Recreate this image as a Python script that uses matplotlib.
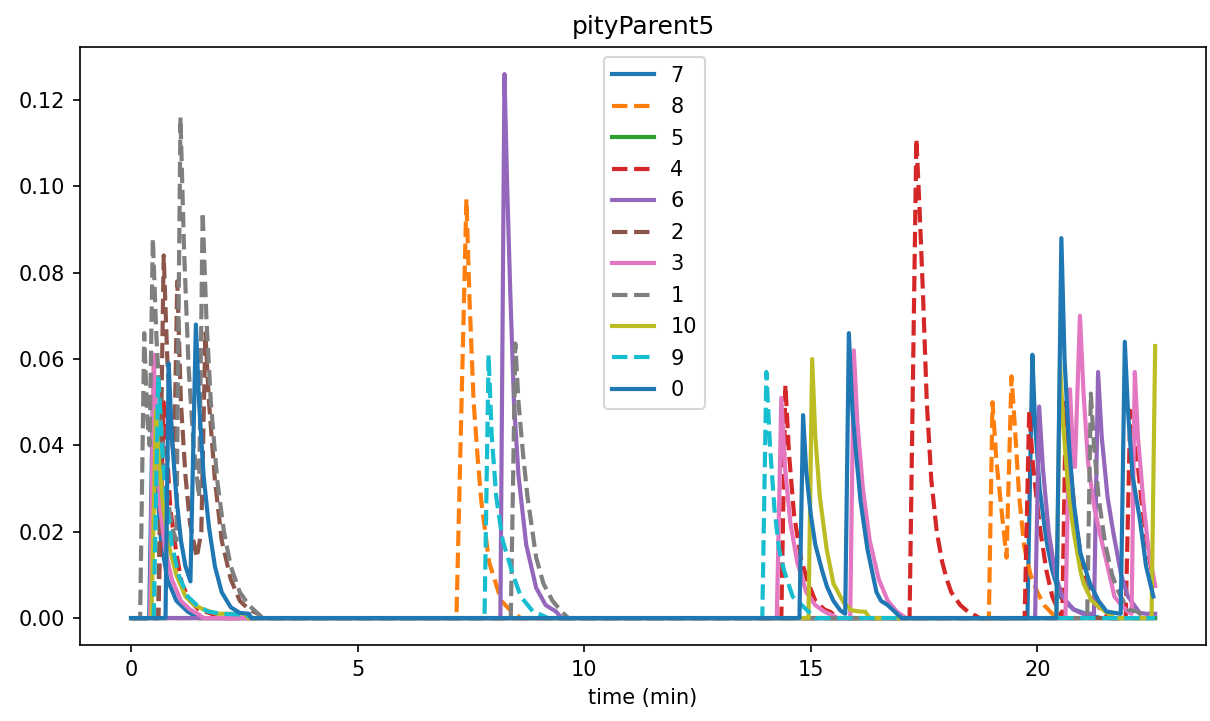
import matplotlib
matplotlib.use("Agg")
import matplotlib.pyplot as plt

# legend labels, in the order the series are drawn
labels = ["7", "8", "5", "4", "6", "2", "3", "1", "10", "9", "0"]

# each series: time (min) and value
t7 = [0, 0.4, 0.48, 0.56, 0.66, 0.8, 1.0, 1.25, 1.5,
      19.78, 19.89, 19.95, 20.05, 20.2, 20.33, 20.5, 20.8, 21.2, 21.4, 22.6]
v7 = [0, 0, 0.05, 0.032, 0.018, 0.009, 0.004, 0.0015, 0,
      0, 0.061, 0.045, 0.03, 0.018, 0.011, 0.005, 0.002, 0.0005, 0, 0]

t8 = [0, 7.18, 7.4, 7.47, 7.56, 7.65, 7.73, 7.9, 8.17, 8.4, 8.6,
      18.93, 19.01, 19.1, 19.23, 19.32, 19.43, 19.5, 19.6, 19.71, 19.85, 20.0, 20.15, 20.33, 20.5, 22.6]
v8 = [0, 0, 0.097, 0.0735, 0.05, 0.037, 0.027, 0.013, 0.004, 0.0015, 0,
      0, 0.05, 0.036, 0.023, 0.014, 0.056, 0.045, 0.028, 0.0165, 0.01, 0.006, 0.003, 0.001, 0, 0]

t5 = [0, 22.6]
v5 = [0, 0]

t4 = [0, 0.6, 0.72, 0.8, 0.87, 1.0, 1.12, 1.3, 1.49, 1.78, 1.9,
      14.35, 14.44, 14.52, 14.63, 14.78, 14.92, 15.1, 15.3, 15.44, 15.6,
      17.18, 17.33, 17.4, 17.48, 17.56, 17.66, 17.78, 17.9, 18.0, 18.1, 18.3, 18.5, 18.65, 18.72,
      19.72, 19.82, 19.9, 20.0, 20.07, 20.2, 20.33, 20.45, 20.55, 20.63, 20.72, 20.85, 21.0, 21.2, 21.4, 21.6,
      21.95, 22.05, 22.15, 22.3, 22.45, 22.6]
v4 = [0, 0, 0.05, 0.037, 0.025, 0.015, 0.008, 0.004, 0.002, 0.001, 0,
      0, 0.054, 0.038, 0.024, 0.014, 0.0088, 0.004, 0.002, 0.0014, 0,
      0, 0.111, 0.095, 0.074, 0.05, 0.032, 0.02, 0.013, 0.009, 0.006, 0.003, 0.0012, 0.0005, 0,
      0, 0.048, 0.036, 0.026, 0.02, 0.011, 0.005, 0.002, 0, 0.05, 0.036, 0.022, 0.012, 0.005, 0.002, 0,
      0, 0.048, 0.042, 0.027, 0.015, 0.007]

t6 = [0, 8.15, 8.24, 8.3, 8.37, 8.45, 8.55, 8.72, 8.94, 9.15, 9.38, 9.5,
      19.95, 20.04, 20.12, 20.25, 20.4, 20.55, 20.8, 21.0, 21.25, 21.34, 21.42, 21.55, 21.68, 21.85,
      22.0, 22.26, 22.4, 22.6]
v6 = [0, 0, 0.126, 0.1, 0.075, 0.05, 0.033, 0.017, 0.007, 0.003, 0.0015, 0,
      0, 0.049, 0.035, 0.02, 0.01, 0.005, 0.002, 0.001, 0.001, 0.057, 0.042, 0.028, 0.0196, 0.01,
      0.005, 0.0012, 0.001, 0.001]

t2 = [0, 0.6, 0.72, 0.8, 0.9, 0.95, 1.02, 1.1, 1.2, 1.3, 1.45, 1.55, 1.64, 1.72, 1.85,
      2.0, 2.2, 2.4, 2.6, 2.8, 2.9, 22.6]
v2 = [0, 0, 0.084, 0.06, 0.042, 0.036, 0.078, 0.05, 0.033, 0.022, 0.014, 0.02, 0.066, 0.05, 0.032,
      0.018, 0.009, 0.004, 0.002, 0.001, 0, 0]

t3 = [0, 0.42, 0.5, 0.56, 0.65, 0.75, 0.9, 1.1, 1.3, 1.5, 1.6,
      14.25, 14.35, 14.43, 14.55, 14.7, 14.9, 15.1, 15.3, 15.5, 15.6,
      15.87, 15.95, 16.03, 16.15, 16.3, 16.5, 16.7, 16.9, 17.1,
      20.62, 20.72, 20.78, 20.83, 20.94, 21.02, 21.12, 21.25, 21.38, 21.55, 21.7, 21.85, 22.0,
      22.08, 22.15, 22.22, 22.34, 22.45, 22.6]
v3 = [0, 0, 0.061, 0.04, 0.025, 0.016, 0.009, 0.004, 0.002, 0.0008, 0,
      0, 0.051, 0.035, 0.022, 0.013, 0.006, 0.003, 0.0015, 0.0005, 0,
      0, 0.062, 0.045, 0.03, 0.018, 0.009, 0.004, 0.0015, 0,
      0, 0.053, 0.04, 0.035, 0.07, 0.052, 0.036, 0.026, 0.0196, 0.012, 0.005, 0.003, 0.0015,
      0.001, 0.057, 0.042, 0.027, 0.016, 0.0075]

t1 = [0, 0.2, 0.29, 0.36, 0.41, 0.48, 0.56, 0.66, 0.78, 0.9, 1.0, 1.09, 1.17, 1.27, 1.38, 1.5,
      1.58, 1.66, 1.76, 1.9, 2.05, 2.2, 2.4, 2.6, 2.8, 2.9,
      8.38, 8.48, 8.55, 8.65, 8.75, 8.94, 9.1, 9.3, 9.5, 9.65,
      21.1, 21.18, 21.25, 21.35, 21.5, 21.65, 21.8, 22.0, 22.2, 22.4, 22.6]
v1 = [0, 0, 0.066, 0.046, 0.04, 0.088, 0.065, 0.045, 0.03, 0.021, 0.018, 0.116, 0.085, 0.058, 0.04, 0.028,
      0.094, 0.07, 0.05, 0.032, 0.02, 0.012, 0.006, 0.003, 0.001, 0,
      0, 0.0636, 0.05, 0.038, 0.028, 0.014, 0.008, 0.004, 0.0015, 0,
      0, 0.052, 0.04, 0.028, 0.017, 0.01, 0.0058, 0.002, 0.0015, 0, 0]

t10 = [0, 0.45, 0.55, 0.62, 0.72, 0.85, 1.0, 1.2, 1.4, 1.6, 1.9, 2.5, 2.6,
       14.95, 15.03, 15.1, 15.2, 15.35, 15.5, 15.73, 15.9, 16.1, 16.2, 16.3,
       20.42, 20.5, 20.57, 20.68, 20.8, 20.95, 21.02, 21.2, 21.46, 21.7, 22.52, 22.6]
v10 = [0, 0, 0.048, 0.036, 0.025, 0.016, 0.01, 0.005, 0.003, 0.002, 0.001, 0.001, 0,
       0, 0.06, 0.042, 0.028, 0.016, 0.008, 0.0035, 0.0018, 0.0015, 0.0015, 0,
       0, 0.059, 0.045, 0.03, 0.02, 0.011, 0.008, 0.004, 0.0018, 0, 0, 0.063]

t9 = [0, 0.5, 0.6, 0.68, 0.78, 0.9, 1.05, 1.25, 1.45, 1.7, 2.0, 2.5, 2.7,
      7.8, 7.89, 7.96, 8.06, 8.2, 8.43, 8.6, 8.87, 9.0, 9.2,
      13.93, 14.02, 14.1, 14.2, 14.3, 14.41, 14.6, 14.85, 15.0, 15.1, 22.6]
v9 = [0, 0, 0.056, 0.04, 0.027, 0.017, 0.01, 0.005, 0.003, 0.0015, 0.001, 0.0008, 0,
      0, 0.061, 0.042, 0.028, 0.018, 0.01, 0.005, 0.0015, 0.001, 0,
      0, 0.057, 0.04, 0.025, 0.016, 0.011, 0.005, 0.0025, 0.001, 0, 0]

t0 = [0, 0.76, 0.83, 0.9, 1.0, 1.1, 1.2, 1.31, 1.43, 1.5, 1.6, 1.72, 1.85, 2.0, 2.2, 2.4, 2.6, 2.65,
      14.75, 14.83, 14.9, 15.0, 15.1, 15.25, 15.36, 15.5, 15.65, 15.76, 15.84, 15.92, 16.0, 16.1,
      16.25, 16.45, 16.55, 16.7, 16.9, 17.0,
      20.42, 20.53, 20.6, 20.7, 20.8, 20.95, 21.16, 21.35, 21.53, 21.84, 21.93, 22.0, 22.1, 22.26,
      22.4, 22.56]
v0 = [0, 0, 0.059, 0.042, 0.028, 0.018, 0.012, 0.0085, 0.068, 0.05, 0.033, 0.021, 0.012, 0.006, 0.0025,
      0.0012, 0.001, 0,
      0, 0.047, 0.034, 0.024, 0.017, 0.011, 0.0072, 0.004, 0.0018, 0.001, 0.066, 0.048, 0.038, 0.027,
      0.016, 0.006, 0.004, 0.003, 0.001, 0,
      0, 0.088, 0.06, 0.04, 0.027, 0.015, 0.008, 0.004, 0.0015, 0.001, 0.064, 0.048, 0.033, 0.023,
      0.012, 0.005]

series = [(t7, v7), (t8, v8), (t5, v5), (t4, v4), (t6, v6), (t2, v2),
          (t3, v3), (t1, v1), (t10, v10), (t9, v9), (t0, v0)]

fig = plt.figure(figsize=(1210 / 150, 721 / 150), dpi=150)
ax = fig.add_axes([0.066, 0.105, 0.931, 0.830])

for i, (lab, (t, v)) in enumerate(zip(labels, series)):
    ls = "-" if i % 2 == 0 else "--"
    ax.plot(t, v, ls, lw=2, label=lab)

ax.set_title("pityParent5")
ax.set_xlabel("time (min)")
ax.legend(loc="upper center", bbox_to_anchor=(0.51, 1.0), labelspacing=0.55)

fig.savefig("out.png", dpi=150)
